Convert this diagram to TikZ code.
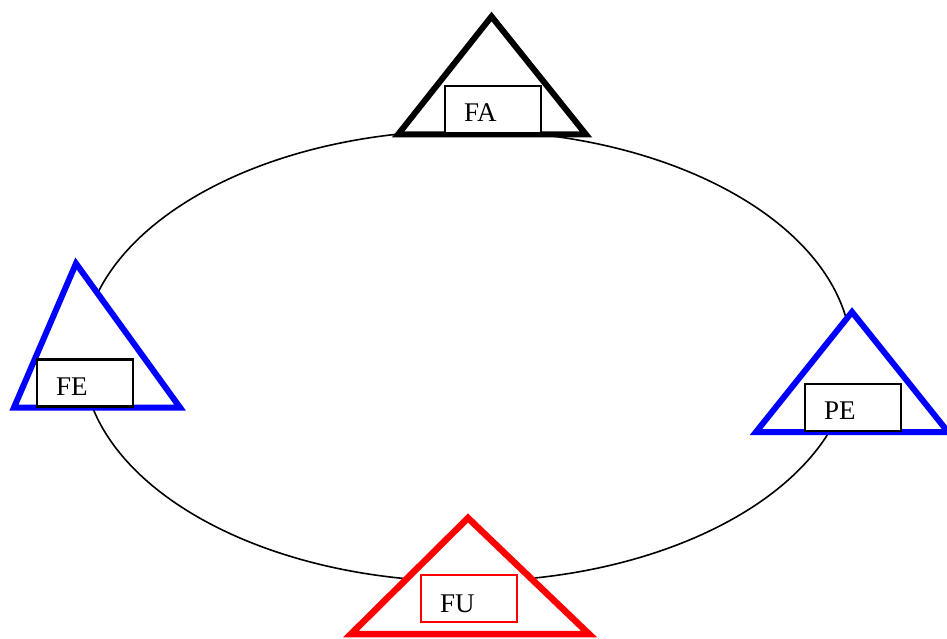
\documentclass[tikz,border=0pt]{standalone}
\usepackage{fontspec}
\setmainfont{Liberation Serif}
\begin{document}
\begin{tikzpicture}[x=1pt,y=-1pt,
  tri/.style={line width=6pt,fill=white,miter limit=10},
  labbox/.style={draw=black,line width=2.2pt,fill=white,minimum width=96pt,minimum height=47pt,inner sep=0pt,anchor=south west},
  lab/.style={anchor=base west,inner sep=0pt,font=\fontsize{27}{31}\selectfont}]
\useasboundingbox (0,0) rectangle (947,639);
\draw[line width=1.6pt] (467,356) ellipse [x radius=384.5, y radius=225.5];
% FA
\draw[tri,draw=black] (491.5,16.5) -- (586,134.5) -- (398,134.5) -- cycle;
\node[labbox] (fabox) at (444,134.5) {};
\node[lab] (fa) at ([xshift=20pt,yshift=12.5pt]fabox.south west) {FA};
% FE
\draw[tri,draw=blue] (76,263.5) -- (180,407.5) -- (14,407.5) -- cycle;
\node[labbox] (febox) at (36,407.5) {};
\node[lab] (fe) at ([xshift=20pt,yshift=12pt]febox.south west) {FE};
% PE
\draw[tri,draw=blue] (852,312) -- (948,432) -- (756,432) -- cycle;
\node[labbox] (pebox) at (804,432) {};
\node[lab] (pe) at ([xshift=20pt,yshift=13pt]pebox.south west) {PE};
% FU
\draw[tri,draw=red,line width=6.5pt] (468,518) -- (589,634) -- (351,634) -- cycle;
\node[labbox,draw=red,line width=1.8pt] (fubox) at (420,623) {};
\node[lab] (fu) at ([xshift=20pt,yshift=11pt]fubox.south west) {FU};
\end{tikzpicture}
\end{document}
